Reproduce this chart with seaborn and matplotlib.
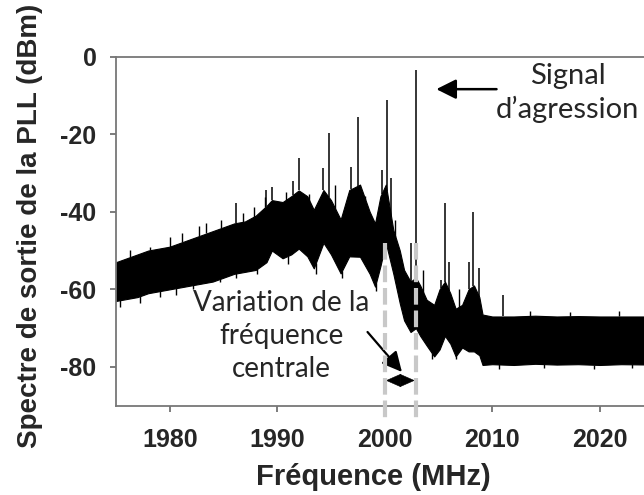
import numpy as np
import matplotlib
matplotlib.use("Agg")
import matplotlib.pyplot as plt
import seaborn as sns

# ── Data (MHz / dBm) ─────────────────────────────────────────
# noise band envelope
freq = [1975.0, 1976.0, 1977.0, 1978.0, 1979.0, 1980.0, 1981.0, 1982.0,
        1983.0, 1984.0, 1985.0, 1986.0, 1987.0, 1988.0, 1989.0, 1989.5,
        1990.5, 1991.3, 1992.0, 1992.8, 1993.4, 1994.3, 1995.0, 1995.9,
        1996.7, 1997.7, 1998.6, 1999.1, 1999.6, 2000.1, 2000.8, 2001.4,
        2001.8, 2002.4, 2002.9, 2003.3, 2003.9, 2004.6, 2005.1, 2005.6,
        2006.1, 2006.6, 2007.2, 2007.8, 2008.3, 2008.8, 2009.1, 2010.0,
        2012.0, 2014.0, 2016.0, 2018.0, 2020.0, 2022.0, 2025.0]
upper = [-53.0, -52.0, -51.0, -50.0, -49.5, -49.0, -48.0, -47.0,
         -46.0, -45.0, -44.0, -43.0, -42.5, -41.0, -38.5, -37.0,
         -37.5, -36.0, -34.5, -36.0, -39.5, -34.4, -37.0, -42.0,
         -34.4, -33.0, -40.0, -43.0, -36.0, -33.0, -44.7, -50.0,
         -55.0, -58.0, -57.0, -59.0, -62.7, -64.0, -60.0, -58.0,
         -61.0, -65.0, -64.0, -60.0, -59.0, -62.0, -66.5, -67.0,
         -67.0, -66.8, -67.0, -66.9, -67.0, -67.0, -67.0]
lower = [-63.0, -62.5, -62.0, -61.0, -60.5, -60.0, -59.5, -59.0,
         -58.5, -58.0, -57.0, -56.0, -55.5, -55.0, -53.0, -50.0,
         -52.0, -51.0, -49.5, -51.5, -54.6, -48.0, -51.0, -55.9,
         -51.5, -51.6, -56.0, -59.3, -54.0, -48.0, -56.0, -63.6,
         -68.0, -71.0, -70.0, -72.0, -74.5, -77.3, -75.5, -72.0,
         -74.0, -77.3, -75.0, -76.0, -76.0, -77.0, -79.5, -79.3,
         -79.5, -79.2, -79.4, -79.3, -79.5, -79.3, -79.4]

# discrete spurs (frequency, peak level)
peak_freq = [1986.2, 1989.0, 1989.5, 1991.5, 1992.0, 1994.3, 1994.8,
             1996.9, 1997.5, 1999.7, 2000.2, 2000.6, 2002.4, 2002.9,
             2005.2, 2005.6, 2006.0, 2007.8, 2008.2, 2008.8, 2011.0]
peak_db = [-37.8, -34.4, -33.5, -32.2, -26.2, -28.8, -19.8,
           -28.4, -15.5, -29.2, -11.2, -31.4, -48.0, -3.5,
           -57.6, -37.8, -52.9, -52.9, -40.0, -54.6, -61.4]

# small noise spikes on the band edges
up_spk_freq = [1976.3, 1978.2, 1980.0, 1981.1, 1982.7, 1983.4, 1984.8,
               1986.8, 1987.8, 1988.9, 1990.8, 1993.0, 1995.4, 1998.2,
               2001.0, 2003.6, 2006.9, 2013.5, 2017.2, 2021.8]
up_spk_db = [-49.9, -49.0, -46.4, -45.5, -43.8, -43.0, -42.1,
             -40.4, -38.7, -36.1, -35.0, -35.5, -33.0, -36.0,
             -42.0, -55.0, -60.0, -65.5, -65.8, -65.6]
dn_spk_freq = [1975.4, 1977.2, 1979.1, 1980.6, 1982.2, 1984.7, 1986.2,
               1988.1, 1991.0, 1993.6, 1996.0, 1999.2, 2004.4, 2006.6,
               2010.6, 2014.8, 2019.5, 2023.0]
dn_spk_db = [-64.5, -63.5, -62.0, -61.5, -60.0, -58.0, -57.0,
             -56.0, -53.5, -56.0, -57.0, -60.5, -78.0, -78.0,
             -80.5, -80.3, -80.6, -80.4]

# centre frequency variation markers
marker_freq = [2000.0, 2002.9]

sns.set_theme(style="ticks")
plt.rcParams['font.family'] = ['Liberation Sans', 'DejaVu Sans']
plt.rcParams['axes.unicode_minus'] = False

fig = plt.figure(figsize=(6.44, 4.95), dpi=100)
ax = fig.add_axes([0.1801, 0.1804, 0.8346, 0.7053])

ax.fill_between(freq, lower, upper, color="black", lw=0.8, edgecolor="black")
base = np.interp(peak_freq, freq, upper)
ax.vlines(peak_freq, base, peak_db, color="black", lw=1.1)
ax.vlines(up_spk_freq, np.interp(up_spk_freq, freq, upper), up_spk_db,
          color="black", lw=1.0)
ax.vlines(dn_spk_freq, np.interp(dn_spk_freq, freq, lower), dn_spk_db,
          color="black", lw=1.0)

for f in marker_freq:
    ax.plot([f, f], [-48, -94], color="#c8c8c8", lw=3, ls=(0, (4, 1.4)),
            clip_on=False, zorder=5)

ax.set_xlim(1975, 2025)
ax.set_ylim(-90, 0)
ax.set_xticks([1980, 1990, 2000, 2010, 2020])
ax.set_yticks([-80, -60, -40, -20, 0])

ax.tick_params(axis="both", direction="out", length=4, width=1.2,
               color="#666666", labelsize=18)
ax.tick_params(axis="x", pad=12)
ax.tick_params(axis="y", pad=10)
for lab in ax.get_xticklabels() + ax.get_yticklabels():
    lab.set_fontweight("bold")
for s in ax.spines.values():
    s.set_color("#777777")
    s.set_linewidth(1.3)

ax.set_xlabel("Fréquence (MHz)", fontsize=21, fontweight="bold")
ax.set_ylabel("Spectre de sortie de la PLL (dBm)", fontsize=20,
              fontweight="bold")
ax.xaxis.set_label_coords(0.479, -0.165)
ax.yaxis.set_label_coords(-0.136, 0.515)

# annotations
ax.text(1990.4, -72.0, "Variation de la\nfréquence\ncentrale", family="Lato",
        fontsize=20, ha="center", va="center", linespacing=1.33)
ax.annotate("", xy=(2001.6, -81.3), xytext=(1998.4, -71.0),
            arrowprops=dict(arrowstyle="-|>,head_length=0.6,head_width=0.3",
                            color="black", lw=1.6, mutation_scale=20,
                            shrinkA=0, shrinkB=0))
ax.annotate("", xy=(2000.1, -83.5), xytext=(2002.8, -83.5),
            arrowprops=dict(arrowstyle="<|-|>,head_length=0.5,head_width=0.22",
                            color="black", lw=0.4, mutation_scale=20,
                            shrinkA=0, shrinkB=0))
ax.text(2017.0, -9.4, "Signal\nd\u2019agression", family="Lato",
        fontsize=21, ha="center", va="center", linespacing=1.27)
ax.annotate("", xy=(2004.8, -8.4), xytext=(2010.4, -8.4),
            arrowprops=dict(arrowstyle="-|>,head_length=0.6,head_width=0.3",
                            color="black", lw=1.8, mutation_scale=20,
                            shrinkA=0, shrinkB=0))

fig.savefig("out.png", dpi=100)
